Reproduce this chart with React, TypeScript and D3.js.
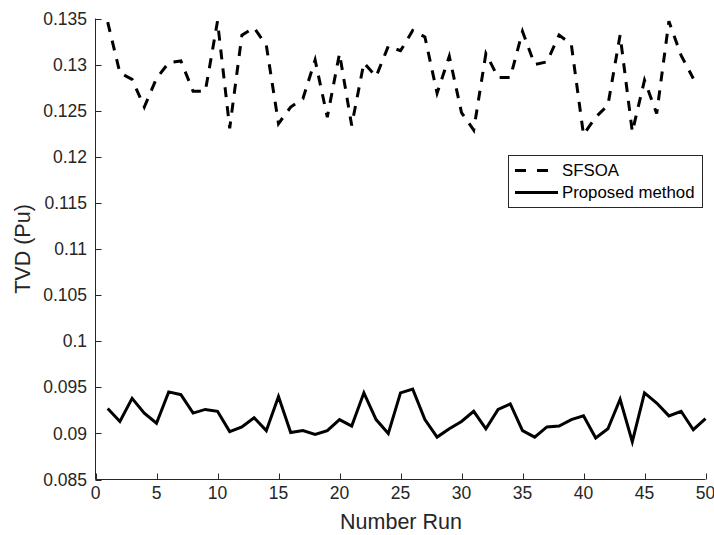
import React from "react";
import * as d3 from "d3";

const runsSFSOA = d3.range(1, 50);
const runsProposed = d3.range(1, 51);
const sfsoa = [
  0.1346, 0.1291, 0.1284, 0.1254, 0.1285, 0.1302, 0.1304, 0.1271, 0.1271, 0.1347,
  0.1231, 0.1332, 0.1340, 0.1321, 0.1236, 0.1254, 0.1263, 0.1305, 0.1243, 0.1312,
  0.1234, 0.1302, 0.1287, 0.1320, 0.1315, 0.1337, 0.1330, 0.1269, 0.1309, 0.1248,
  0.1229, 0.1312, 0.1286, 0.1286, 0.1336, 0.1300, 0.1303, 0.1332, 0.1322, 0.1224,
  0.1243, 0.1256, 0.1332, 0.1227, 0.1283, 0.1247, 0.1347, 0.1310, 0.1285,
];
const proposed = [
  0.0927, 0.0913, 0.0938, 0.0922, 0.0911, 0.0945, 0.0942, 0.0922, 0.0926, 0.0924,
  0.0902, 0.0907, 0.0917, 0.0903, 0.0940, 0.0901, 0.0903, 0.0899, 0.0903, 0.0915,
  0.0908, 0.0944, 0.0915, 0.0900, 0.0944, 0.0948, 0.0915, 0.0896, 0.0905, 0.0913,
  0.0924, 0.0905, 0.0926, 0.0932, 0.0903, 0.0896, 0.0907, 0.0908, 0.0915, 0.0919,
  0.0895, 0.0905, 0.0937, 0.0891, 0.0944, 0.0933, 0.0919, 0.0924, 0.0904, 0.0916,
];
const xTicks = d3.range(0, 51, 5);
const yTicks = [0.085, 0.09, 0.095, 0.1, 0.105, 0.11, 0.115, 0.12, 0.125, 0.13, 0.135];
const seriesNames = ["SFSOA", "Proposed method"];
const xLabel = "Number Run";
const yLabel = "TVD (Pu)";

const W = 714;
const H = 535;
const axisColor = "#262626";
const font = "'Liberation Sans', Arial, Helvetica, sans-serif";

export default function App() {
  const x = d3.scaleLinear().domain([0, 50]).range([95.5, 705.5]);
  const y = d3.scaleLinear().domain([0.085, 0.135]).range([479.5, 18.5]);
  const line = d3
    .line<[number, number]>()
    .x((d) => x(d[0]))
    .y((d) => y(d[1]));
  const sfPath = line(runsSFSOA.map((r, i) => [r, sfsoa[i]]) as [number, number][]) || "";
  const prPath = line(runsProposed.map((r, i) => [r, proposed[i]]) as [number, number][]) || "";
  const x0 = x(0);
  const yb = y(0.085);
  const tl = 6;

  return (
    <svg
      width={W}
      height={H}
      style={{ position: "absolute", left: 0, top: 0, background: "#fff" }}
      fontFamily={font}
    >
      <rect x={0} y={0} width={W} height={H} fill="#fff" />
      <path d={sfPath} fill="none" stroke="#000" strokeWidth={3} strokeDasharray="10,9" />
      <path d={prPath} fill="none" stroke="#000" strokeWidth={3} strokeLinejoin="miter" />
      <line x1={x0} x2={x0} y1={y(0.135)} y2={yb} stroke={axisColor} strokeWidth={1} />
      <line x1={x0} x2={x(50)} y1={yb} y2={yb} stroke={axisColor} strokeWidth={1} />
      {yTicks.map((t) => (
        <g key={"y" + t}>
          <line x1={x0} x2={x0 + tl} y1={Math.round(y(t)) + 0.5} y2={Math.round(y(t)) + 0.5} stroke={axisColor} />
          <text x={87} y={y(t)} dy="0.35em" textAnchor="end" fontSize={17.5} fill={axisColor}>
            {String(t)}
          </text>
        </g>
      ))}
      {xTicks.map((t) => (
        <g key={"x" + t}>
          <line x1={Math.round(x(t)) + 0.5} x2={Math.round(x(t)) + 0.5} y1={yb} y2={yb - tl} stroke={axisColor} />
          <text x={x(t)} y={499} textAnchor="middle" fontSize={17.5} fill={axisColor}>
            {String(t)}
          </text>
        </g>
      ))}
      <text x={401} y={529} textAnchor="middle" fontSize={21.5} fill={axisColor}>
        {xLabel}
      </text>
      <text
        transform={`translate(30,249) rotate(-90)`}
        textAnchor="middle"
        fontSize={21.5}
        fill={axisColor}
      >
        {yLabel}
      </text>
      <rect x={508.5} y={155.5} width={194} height={52} fill="#fff" stroke={axisColor} strokeWidth={1} />
      <line x1={515} x2={558} y1={170.5} y2={170.5} stroke="#000" strokeWidth={3} strokeDasharray="11,11" />
      <line x1={515} x2={558} y1={192.5} y2={192.5} stroke="#000" strokeWidth={3} />
      <text x={562} y={170.5} dy="0.35em" fontSize={16.8} fill="#000">
        {seriesNames[0]}
      </text>
      <text x={562} y={192.5} dy="0.35em" fontSize={16.8} fill="#000">
        {seriesNames[1]}
      </text>
    </svg>
  );
}
